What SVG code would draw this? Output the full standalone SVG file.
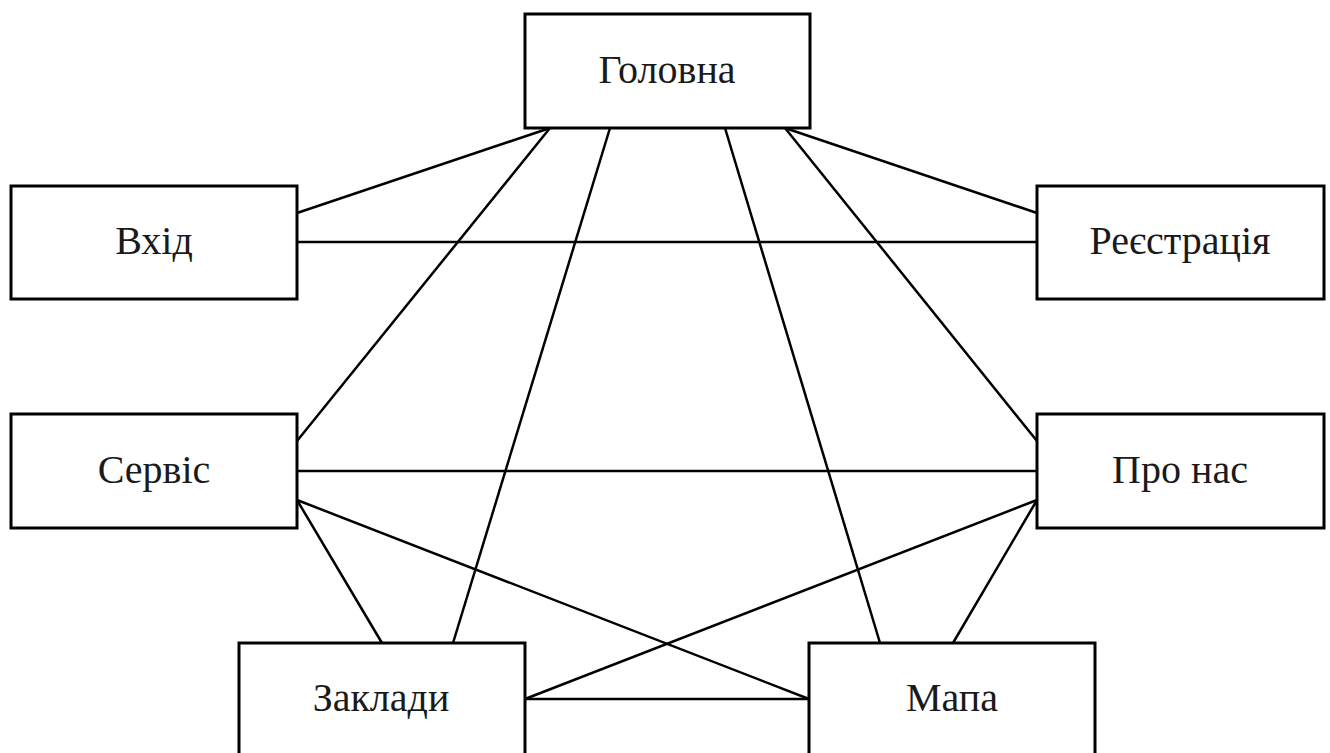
<svg xmlns="http://www.w3.org/2000/svg" width="1330" height="753" viewBox="0 0 1330 753">
<style>
.box{fill:#fff;stroke:#000;stroke-width:3}
.conn line{stroke:#000;stroke-width:2.5;fill:none}
.lbl{font-family:'Liberation Serif','Noto Sans CJK SC',serif;font-size:40px;fill:#1a1a1a;text-anchor:middle}
</style>
<rect width="1330" height="753" fill="#fff"/>
<g id="connectors" class="conn">
<line x1="550" y1="128" x2="297" y2="213"/>
<line x1="550" y1="128" x2="297" y2="441"/>
<line x1="610" y1="128" x2="453" y2="643"/>
<line x1="725" y1="128" x2="880" y2="643"/>
<line x1="785" y1="128" x2="1037" y2="213"/>
<line x1="785" y1="128" x2="1037" y2="441"/>
<line x1="297" y1="242" x2="1037" y2="242"/>
<line x1="297" y1="471" x2="1037" y2="471"/>
<line x1="297" y1="500" x2="382" y2="643"/>
<line x1="297" y1="500" x2="809" y2="699"/>
<line x1="1037" y1="500" x2="525" y2="699"/>
<line x1="1037" y1="500" x2="953" y2="643"/>
<line x1="525" y1="699" x2="809" y2="699"/>
</g>
<g id="nodes">
<g id="golovna"><rect class="box" x="525" y="14" width="285" height="114"/><text class="lbl" x="667" y="83">Головна</text></g>
<g id="vkhid"><rect class="box" x="11" y="186" width="286" height="113"/><text class="lbl" x="154" y="254">Вхід</text></g>
<g id="reiestratsiia"><rect class="box" x="1037" y="186" width="287" height="113"/><text class="lbl" x="1180" y="254">Реєстрація</text></g>
<g id="servis"><rect class="box" x="11" y="414" width="286" height="114"/><text class="lbl" x="154" y="483">Сервіс</text></g>
<g id="pro-nas"><rect class="box" x="1037" y="414" width="287" height="114"/><text class="lbl" x="1180" y="483">Про нас</text></g>
<g id="zaklady"><rect class="box" x="239" y="643" width="286" height="116"/><text class="lbl" x="381" y="711">Заклади</text></g>
<g id="mapa"><rect class="box" x="809" y="643" width="286" height="116"/><text class="lbl" x="952" y="711">Мапа</text></g>
</g>
</svg>
